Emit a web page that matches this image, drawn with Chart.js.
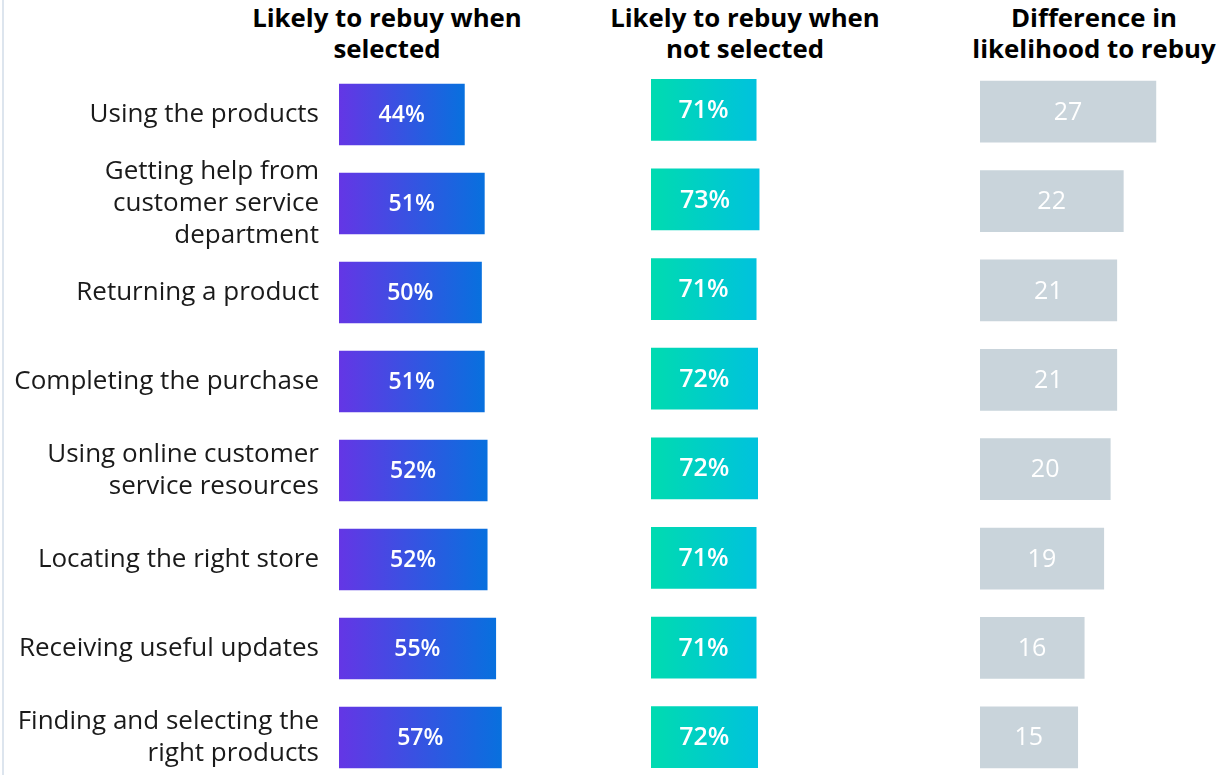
<!DOCTYPE html>
<html>
<head>
<meta charset="utf-8">
<script src="https://cdn.jsdelivr.net/npm/chart.js@4/dist/chart.umd.min.js"></script>
<style>
  html, body { margin: 0; padding: 0; background: #fff; overflow: hidden; }
  body { width: 1228px; height: 775px; position: relative; }
  .edge { position: absolute; left: 2px; top: 0; width: 2px; height: 775px; background: #dde5ee; }
  .panel { position: absolute; top: 0; }
  .head {
    position: absolute; top: 2px; width: 340px; text-align: center;
    font-family: "Open Sans", "Noto Sans", sans-serif; font-weight: 700;
    font-size: 25.8px; line-height: 31px; color: #000;
  }
</style>
</head>
<body>
<div class="edge"></div>
<div class="head" style="left:217px">Likely to rebuy when<br>selected</div>
<div class="head" style="left:575px">Likely to rebuy when<br>not selected</div>
<div class="head" style="left:924px">Difference in<br>likelihood to rebuy</div>

<div class="panel" style="left:0"><canvas id="selected" width="510" height="782"></canvas></div>
<div class="panel" style="left:651px"><canvas id="notSelected" width="200" height="782"></canvas></div>
<div class="panel" style="left:980px"><canvas id="difference" width="228" height="782"></canvas></div>

<script>
var touchpoints = [
    'Using the products',
    ['Getting help from', 'customer service', 'department'],
    'Returning a product',
    'Completing the purchase',
    ['Using online customer', 'service resources'],
    'Locating the right store',
    'Receiving useful updates',
    ['Finding and selecting the', 'right products']
]
var rebuySelected = [44, 51, 50, 51, 52, 52, 55, 57]
var rebuyNotSelected = [71, 73, 71, 72, 72, 71, 71, 72]
var rebuyDifference = [27, 22, 21, 21, 20, 19, 16, 15]

var FONT = '"Open Sans", "Noto Sans", sans-serif'

// horizontal gradient running along each bar, from its base to its tip
function barGradient(from, to) {
    return function (context) {
        var chart = context.chart
        var x = chart.scales.x
        if (!chart.chartArea || !x || context.raw === undefined) {
            return to
        }
        var x0 = x.getPixelForValue(0)
        var x1 = x.getPixelForValue(context.raw)
        if (!isFinite(x0) || !isFinite(x1) || x1 === x0) {
            return to
        }
        var g = chart.ctx.createLinearGradient(x0, 0, x1, 0)
        g.addColorStop(0, from)
        g.addColorStop(1, to)
        return g
    }
}

// white value text in the middle of every bar
var valueLabels = {
    id: 'valueLabels',
    afterDatasetsDraw: function (chart, args, opts) {
        var ctx = chart.ctx
        var meta = chart.getDatasetMeta(0)
        var values = chart.data.datasets[0].data
        ctx.save()
        ctx.fillStyle = '#fff'
        ctx.font = opts.font
        ctx.textAlign = 'center'
        ctx.textBaseline = 'middle'
        meta.data.forEach(function (bar, i) {
            ctx.fillText(values[i] + (opts.suffix || ''), (bar.x + bar.base) / 2, bar.y + 1)
        })
        ctx.restore()
    }
}

function makeChart(id, values, color, maxValue, padTop, labelFont, suffix, showCategories) {
    return new Chart(document.getElementById(id), {
        type: 'bar',
        data: {
            labels: touchpoints,
            datasets: [{
                data: values,
                backgroundColor: color,
                borderWidth: 0,
                barThickness: 61,
                categoryPercentage: 1
            }]
        },
        options: {
            indexAxis: 'y',
            responsive: false,
            animation: false,
            layout: { padding: { top: padTop, bottom: 0, left: 0, right: 0 } },
            plugins: {
                legend: { display: false },
                tooltip: { enabled: false },
                valueLabels: { font: labelFont, suffix: suffix }
            },
            scales: {
                x: { display: false, min: 0, max: maxValue },
                y: {
                    display: showCategories,
                    grid: { display: false, drawTicks: false },
                    border: { display: false },
                    ticks: {
                        autoSkip: false,
                        color: '#1a1a1a',
                        padding: 20,
                        font: { family: FONT, size: 26, weight: '400', lineHeight: 1.23 }
                    },
                    afterFit: function (scale) {
                        // fixed gutter for the category names, no extra room for tall labels
                        if (showCategories) {
                            scale.width = 339
                        }
                        scale.paddingTop = 0
                        scale.paddingBottom = 0
                    }
                }
            }
        },
        plugins: [valueLabels]
    })
}

makeChart('selected', rebuySelected, barGradient('#6436e5', '#0870de'), 60, 70,
    '600 23px ' + FONT, '%', true)
makeChart('notSelected', rebuyNotSelected, barGradient('#00dbb0', '#00c2dd'), 135, 65,
    '600 25px ' + FONT, '%', false)
makeChart('difference', rebuyDifference, '#c9d4db', 35, 67,
    '400 25px ' + FONT, '', false)
</script>
</body>
</html>
